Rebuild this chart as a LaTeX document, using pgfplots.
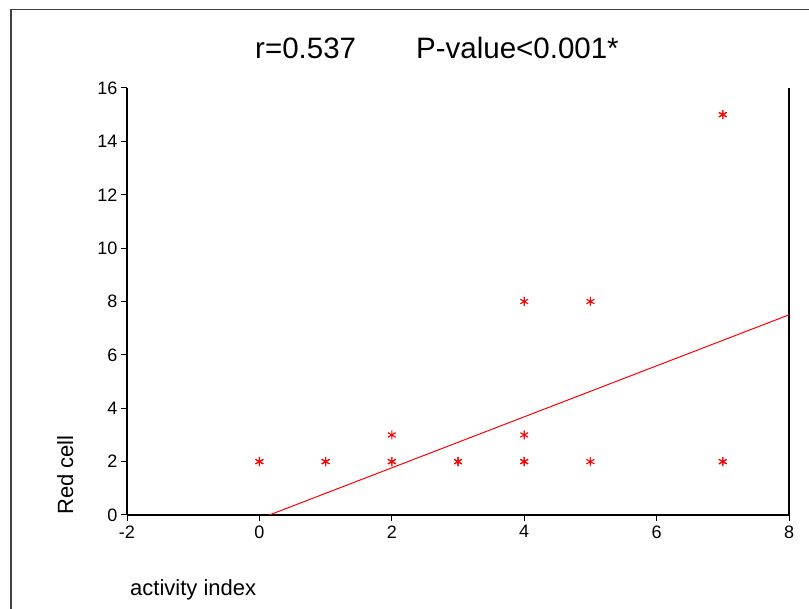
\documentclass[border=0pt]{standalone}
\usepackage{fontspec}
\setmainfont{Liberation Sans}
\usepackage{pgfplots}
\pgfplotsset{compat=1.18}
\begin{document}
\begin{tikzpicture}[x=1pt,y=1pt]
\useasboundingbox (0,0) rectangle (809,609);
% outer frame
\draw[line width=1.5pt, black!75] (11,0) -- (11,599.5) -- (809,599.5);
\begin{axis}[
  at={(127pt,94pt)}, anchor=south west,
  scale only axis, width=662pt, height=427pt,
  xmin=-2, xmax=8, ymin=0, ymax=16,
  xtick={-2,0,...,8}, ytick={0,2,...,16},
  axis x line*=bottom, axis y line*=box,
  xtick pos=bottom, ytick pos=left,
  tick align=outside, major tick length=6pt,
  axis line style={line width=1.2pt},
  every tick/.style={black, line width=1pt},
  /pgf/number format/assume math mode=true,
  xticklabels={-2,0,2,4,6,8},
  yticklabels={0,2,4,6,8,10,12,14,16},
  every tick label/.append style={font=\fontsize{18}{21}\selectfont},
  xticklabel style={yshift=-1pt},
  clip=false,
]
\addplot[only marks, mark=asterisk, mark size=4.5pt, red, line width=1.1pt]
  coordinates {
    (0,2) (0,2) (1,2) (1,2) (2,2) (2,2) (2,3) (3,2) (3,2)
    (4,2) (4,2) (4,3) (4,8) (5,2) (5,8) (7,2) (7,2) (7,15) (7,15)
  };
\addplot[red, line width=1pt] coordinates {(0.15,0) (8,7.5)};
\end{axis}
\node[anchor=base west, font=\fontsize{29.5}{35}\selectfont, inner sep=0pt] at (255,550) {r=0.537};
\node[anchor=base west, font=\fontsize{29.5}{35}\selectfont, inner sep=0pt] at (416,550) {P-value<0.001*};
\node[anchor=base west, rotate=90, font=\fontsize{22}{26}\selectfont, inner sep=0pt] at (73,94) {Red cell};
\node[anchor=base west, font=\fontsize{22}{26}\selectfont, inner sep=0pt] at (130,13) {activity index};
\end{tikzpicture}
\end{document}
